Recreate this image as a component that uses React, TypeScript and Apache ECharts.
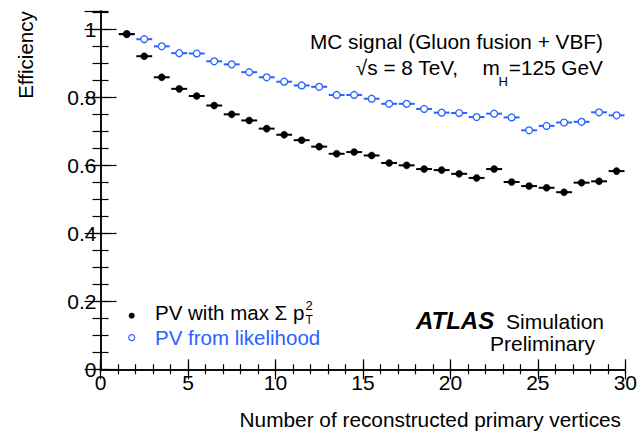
import React, { useEffect, useRef } from "react";
import * as echarts from "echarts";

// Bin centres (number of reconstructed primary vertices)
const binCenters = [
  1.5, 2.5, 3.5, 4.5, 5.5, 6.5, 7.5, 8.5, 9.5, 10.5, 11.5, 12.5, 13.5, 14.5, 15.5,
  16.5, 17.5, 18.5, 19.5, 20.5, 21.5, 22.5, 23.5, 24.5, 25.5, 26.5, 27.5, 28.5, 29.5,
];
const binHalfWidth = 0.5;

// PV with max sum pT^2 (black filled)
const maxSumPt2 = [
  0.986, 0.921, 0.859, 0.825, 0.804, 0.776, 0.75, 0.732, 0.708, 0.69, 0.674, 0.655,
  0.634, 0.639, 0.629, 0.607, 0.6, 0.589, 0.586, 0.575, 0.563, 0.589, 0.551, 0.539,
  0.534, 0.521, 0.549, 0.553, 0.583,
];

// PV from likelihood (blue open)
const likelihood = [
  0.986, 0.971, 0.95, 0.93, 0.929, 0.906, 0.897, 0.874, 0.859, 0.846, 0.835, 0.831,
  0.807, 0.807, 0.796, 0.781, 0.781, 0.766, 0.755, 0.754, 0.742, 0.752, 0.741, 0.703,
  0.716, 0.726, 0.728, 0.756, 0.747,
];

const xMin = 0;
const xMax = 30;
const xMajor = 5;
const xMinor = 1;
const yMin = 0;
const yMax = 1.054;
const yMajor = 0.2;
const yMinor = 0.05;

const FONT = '"Liberation Sans", Arial, Helvetica, sans-serif';
const BLUE = "#2A62FF";
const BLACK = "#000000";

function measure(text: string, size: number, weight = "normal", style = "normal") {
  const c = document.createElement("canvas");
  const ctx = c.getContext("2d");
  if (!ctx) return text.length * size * 0.5;
  ctx.font = `${style} ${weight} ${size}px ${FONT}`;
  return ctx.measureText(text).width;
}

function makeRenderItem(color: string, filled: boolean) {
  return (params: any, api: any) => {
    const x = api.value(0);
    const y = api.value(1);
    const p0 = api.coord([x - binHalfWidth, y]);
    const p1 = api.coord([x + binHalfWidth, y]);
    const c = api.coord([x, y]);
    return {
      type: "group",
      children: [
        {
          type: "line",
          shape: { x1: p0[0] + 0.8, y1: p0[1], x2: p1[0] - 0.8, y2: p1[1] },
          style: { stroke: color, lineWidth: 2 },
        },
        {
          type: "circle",
          shape: { cx: c[0], cy: c[1], r: filled ? 3.5 : 3.4 },
          style: filled
            ? { fill: color, stroke: color, lineWidth: 0.5 }
            : { fill: "#ffffff", stroke: color, lineWidth: 1.3 },
        },
      ],
    };
  };
}

function txt(text: string, x: number, y: number, size: number, extra: any = {}) {
  return {
    type: "text",
    x,
    y,
    silent: true,
    style: {
      text,
      fontSize: size,
      fontFamily: FONT,
      fill: BLACK,
      align: "left",
      verticalAlign: "middle",
      ...extra,
    },
  };
}

export default function App() {
  const ref = useRef<HTMLDivElement>(null);

  useEffect(() => {
    if (!ref.current) return;
    const chart = echarts.init(ref.current, undefined, { renderer: "svg" });

    const axisLine = { show: true, lineStyle: { color: BLACK, width: 1.5 } };
    const noLabel = { show: false };

    const xBase = { type: "value", min: xMin, max: xMax, splitLine: { show: false } };
    const yBase = { type: "value", min: yMin, max: yMax, splitLine: { show: false } };

    const legendSize = 20.5;
    const leg1 = "PV with max Σ p";
    const leg1W = measure(leg1, legendSize);

    const option: any = {
      animation: false,
      backgroundColor: "#ffffff",
      grid: { left: 100.5, right: 11.5, top: 11, bottom: 61.7, containLabel: false },
      xAxis: [
        {
          ...xBase,
          position: "bottom",
          interval: xMajor,
          axisLine,
          axisTick: { show: true, inside: true, length: 10, lineStyle: { color: BLACK, width: 1.2 } },
          axisLabel: { show: true, margin: 3, fontSize: 21, fontFamily: FONT, color: BLACK },
        },
        {
          ...xBase,
          position: "bottom",
          interval: xMinor,
          axisLine: { show: false },
          axisTick: { show: true, inside: true, length: 5, lineStyle: { color: BLACK, width: 1.2 } },
          axisLabel: noLabel,
        },
        {
          ...xBase,
          position: "top",
          interval: xMajor,
          axisLine,
          axisTick: { show: true, inside: true, length: 10, lineStyle: { color: BLACK, width: 1.2 } },
          axisLabel: noLabel,
        },
        {
          ...xBase,
          position: "top",
          interval: xMinor,
          axisLine: { show: false },
          axisTick: { show: true, inside: true, length: 5, lineStyle: { color: BLACK, width: 1.2 } },
          axisLabel: noLabel,
        },
      ],
      yAxis: [
        {
          ...yBase,
          position: "left",
          interval: yMajor,
          axisLine,
          axisTick: { show: true, inside: true, length: 16, lineStyle: { color: BLACK, width: 1.2 } },
          axisLabel: {
            show: true,
            margin: 4,
            fontSize: 21,
            fontFamily: FONT,
            color: BLACK,
            showMaxLabel: false,
          },
        },
        {
          ...yBase,
          position: "left",
          interval: yMinor,
          axisLine: { show: false },
          axisTick: { show: true, inside: true, length: 8, lineStyle: { color: BLACK, width: 1.2 } },
          axisLabel: noLabel,
        },
        {
          ...yBase,
          position: "right",
          interval: yMajor,
          axisLine,
          axisTick: { show: true, inside: true, length: 16, lineStyle: { color: BLACK, width: 1.2 } },
          axisLabel: noLabel,
        },
        {
          ...yBase,
          position: "right",
          interval: yMinor,
          axisLine: { show: false },
          axisTick: { show: true, inside: true, length: 8, lineStyle: { color: BLACK, width: 1.2 } },
          axisLabel: noLabel,
        },
      ],
      series: [
        {
          name: "PV from likelihood",
          type: "custom",
          xAxisIndex: 0,
          yAxisIndex: 0,
          renderItem: makeRenderItem(BLUE, false),
          data: binCenters.map((x, i) => [x, likelihood[i]]),
          z: 2,
        },
        {
          name: "PV with max Σ pT²",
          type: "custom",
          xAxisIndex: 0,
          yAxisIndex: 0,
          renderItem: makeRenderItem(BLACK, true),
          data: binCenters.map((x, i) => [x, maxSumPt2[i]]),
          z: 3,
        },
      ],
      graphic: [
        // axis titles
        {
          type: "text",
          x: 25,
          y: 55,
          rotation: Math.PI / 2,
          silent: true,
          style: {
            text: "Efficiency",
            fontSize: 20.5,
            fontFamily: FONT,
            fill: BLACK,
            align: "center",
            verticalAlign: "middle",
          },
        },
        txt("Number of reconstructed primary vertices", 621, 419.5, 20.8, { align: "right" }),
        // top-right annotation
        txt("MC signal (Gluon fusion + VBF)", 603, 41.7, 20.8, { align: "right" }),
        txt("√s = 8 TeV,", 458, 67, 20.8, { align: "right" }),
        txt("m", 482.5, 67, 20.8),
        txt("H", 498.5, 81, 13),
        txt("=125 GeV", 603, 67, 20.8, { align: "right" }),
        // legend
        { type: "circle", silent: true, shape: { cx: 131.7, cy: 315.7, r: 3 }, style: { fill: BLACK } },
        {
          type: "circle",
          silent: true,
          shape: { cx: 131.7, cy: 337.7, r: 3 },
          style: { fill: "#ffffff", stroke: BLUE, lineWidth: 1.2 },
        },
        txt(leg1, 155, 312.5, legendSize),
        txt("2", 155 + leg1W + 1, 305, 13),
        txt("T", 155 + leg1W + 1, 319.5, 12),
        txt("PV from likelihood", 155, 337.5, legendSize, { fill: BLUE }),
        // ATLAS label
        txt("ATLAS", 416, 320, 24, { fontWeight: "bold", fontStyle: "italic" }),
        txt("Simulation", 506, 321.3, 21),
        txt("Preliminary", 490, 343.3, 21),
      ],
    };

    chart.setOption(option);
    return () => {
      chart.dispose();
    };
  }, []);

  return (
    <div
      ref={ref}
      style={{ position: "absolute", left: 0, top: 0, width: 640, height: 431, background: "#fff" }}
    />
  );
}
